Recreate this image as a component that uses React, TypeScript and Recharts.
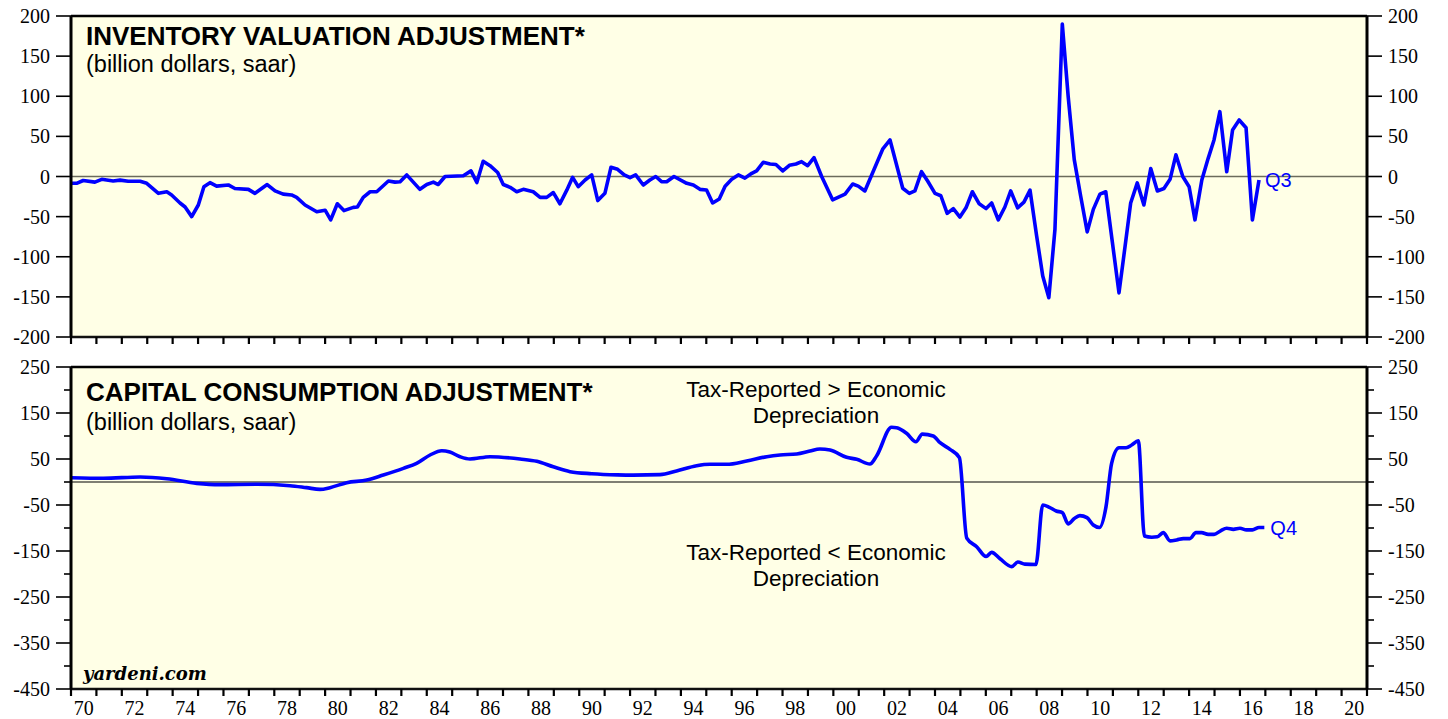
import React from 'react'
import { LineChart, Line, XAxis, YAxis, CartesianGrid, ReferenceLine, ReferenceDot } from 'recharts'

// Inventory valuation adjustment, billion $ saar (quarterly)
const IVA_DATES = [
  1970.03, 1970.22, 1970.48, 1970.94, 1971.21, 1971.66, 1971.93, 1972.25, 1972.72, 1972.98,
  1973.44, 1973.77, 1973.96, 1974.29, 1974.49, 1974.75, 1975.01, 1975.23, 1975.47, 1975.73,
  1976.19, 1976.45, 1976.98, 1977.24, 1977.72, 1978.03, 1978.35, 1978.68, 1978.88, 1979.21,
  1979.67, 1980.0, 1980.22, 1980.48, 1980.74, 1981.11, 1981.27, 1981.5, 1981.77, 1982.03,
  1982.49, 1982.75, 1982.95, 1983.21, 1983.73, 1984.0, 1984.26, 1984.45, 1984.72, 1985.44,
  1985.74, 1985.97, 1986.22, 1986.49, 1986.79, 1987.01, 1987.28, 1987.54, 1987.8, 1988.19,
  1988.46, 1988.72, 1988.98, 1989.24, 1989.51, 1989.74, 1989.96, 1990.23, 1990.49, 1990.73,
  1991.01, 1991.25, 1991.51, 1991.77, 1992.0, 1992.22, 1992.52, 1992.78, 1993.01, 1993.24,
  1993.44, 1993.73, 1994.23, 1994.49, 1994.75, 1995.01, 1995.25, 1995.51, 1995.74, 1996.0,
  1996.26, 1996.52, 1996.79, 1996.98, 1997.24, 1997.51, 1997.74, 1998.01, 1998.27, 1998.53,
  1998.75, 1998.99, 1999.24, 1999.54, 1999.97, 2000.46, 2000.76, 2000.98, 2001.24, 2001.94,
  2002.23, 2002.73, 2002.99, 2003.21, 2003.47, 2003.71, 2004.0, 2004.23, 2004.48, 2004.72,
  2004.98, 2005.22, 2005.47, 2005.74, 2006.01, 2006.23, 2006.49, 2006.75, 2006.98, 2007.25,
  2007.5, 2007.74, 2008.0, 2008.24, 2008.48, 2008.72, 2009.01, 2009.24, 2009.48, 2009.73,
  2009.99, 2010.23, 2010.49, 2010.72, 2010.98, 2011.24, 2011.48, 2011.7, 2011.96, 2012.22,
  2012.49, 2012.75, 2013.01, 2013.25, 2013.48, 2013.75, 2014.0, 2014.23, 2014.5, 2014.75,
  2014.98, 2015.21, 2015.48, 2015.71, 2015.97, 2016.24, 2016.49, 2016.75,
]
const IVA_VALUES = [
  -8.5, -8.5, -5, -7, -3.5, -5.5, -4.5, -6, -6, -8.5,
  -21, -19, -23, -33, -38, -50, -35.5, -12.7, -7.7, -12,
  -10.5, -15, -16, -21, -10, -18, -22, -23, -26, -35.5,
  -44, -42, -54, -34, -42.5, -38.5, -38, -26, -19, -19,
  -5.6, -7, -6.5, 2, -16, -10, -7, -10, 0, 1,
  7, -7.5, 19, 13.5, 5, -10, -13.5, -19, -16, -19,
  -26, -26, -20, -34, -17, -1, -12.7, -4.4, 2, -30,
  -21, 11.5, 9, 2, -1.5, 2, -10.6, -4.4, 0, -6.5,
  -6.5, 0, -8.5, -10.6, -16, -16.8, -33, -28, -12, -3.5,
  2, -2, 4, 7, 17.7, 15.6, 15, 7, 14, 15.6,
  18.5, 13.5, 23.5, 0, -29, -22, -9.3, -12, -18, 34,
  45.5, -14.7, -21, -18, 6, -5.6, -21, -24, -46, -40,
  -50.5, -39, -19, -34, -40, -33, -54, -38, -18, -39,
  -32, -17, -74, -124, -151, -66, 190, 100, 21, -24,
  -69, -41, -22, -19, -82, -145, -87, -33, -8, -35.5,
  10, -18, -15, -3.5, 27, 0, -12.7, -54, -4.4, 22.6,
  45.5, 80.8, 6, 58, 70.4, 60.8, -54, -4.4,
]

// Capital consumption adjustment, billion $ saar
const CCA_DATES = [
  1970.03, 1971.27, 1972.72, 1973.77, 1974.95, 1975.86, 1977.31, 1978.62, 1979.27, 1979.8,
  1980.19, 1980.85, 1981.64, 1982.29, 1983.08, 1983.6, 1984.13, 1984.59, 1984.91, 1985.31,
  1985.7, 1986.49, 1987.67, 1988.33, 1988.98, 1989.64, 1990.49, 1991.5, 1992.13, 1993.18,
  1993.83, 1994.62, 1995.15, 1995.8, 1996.59, 1997.38, 1997.9, 1998.56, 1999.08, 1999.47,
  1999.87, 2000.52, 2000.92, 2001.44, 2001.7, 2002.29, 2002.49, 2002.88, 2003.25, 2003.5,
  2003.93, 2004.2, 2004.59, 2004.96, 2005.25, 2005.64, 2006.01, 2006.23, 2006.56, 2007.02,
  2007.26, 2007.54, 2007.97, 2008.24, 2008.5, 2008.77, 2009.01, 2009.24, 2009.47, 2009.7,
  2009.98, 2010.23, 2010.47, 2010.73, 2010.95, 2011.24, 2011.52, 2011.74, 2012.0, 2012.24,
  2012.53, 2012.75, 2012.98, 2013.25, 2013.51, 2013.77, 2014.03, 2014.27, 2014.49, 2014.75,
  2014.98, 2015.24, 2015.48, 2015.74, 2016.0, 2016.26, 2016.49, 2016.75, 2016.96,
]
const CCA_VALUES = [
  9.4, 8, 10.9, 7.2, -2.9, -5.8, -5, -8, -12.3, -16,
  -12.3, -1.4, 4.3, 15.2, 29.7, 40.5, 58.7, 68, 65, 55,
  50, 55, 50, 45, 33, 22.5, 18, 15.5, 15, 16,
  24, 35.5, 38.5, 38.5, 45.7, 55, 58.7, 61, 67.4, 71.7,
  69.6, 53.7, 49.3, 39, 56.5, 119, 118, 106, 87.6, 104,
  100, 85.4, 71, 53, -122, -140.6, -162, -153, -167, -184,
  -174, -178.5, -179.5, -50, -55, -63, -66.5, -91, -80, -73,
  -77.5, -93.5, -99, -53.6, 40.5, 74.6, 74.6, 80.4, 89.8, -117.4,
  -120, -119, -110, -128, -126, -123, -123, -110, -110, -113.8,
  -113.8, -106, -100.7, -103, -100.7, -104, -104, -99, -99,
]

const IVA_TICKS = [200, 150, 100, 50, 0, -50, -100, -150, -200]
const CCA_TICKS = [250, 200, 150, 100, 50, 0, -50, -100, -150, -200, -250, -300, -350, -400, -450]
const CCA_LABELED = [250, 150, 50, -50, -150, -250, -350, -450]
const YEAR_LABELS = [
  1970, 1972, 1974, 1976, 1978, 1980, 1982, 1984, 1986, 1988, 1990, 1992, 1994,
  1996, 1998, 2000, 2002, 2004, 2006, 2008, 2010, 2012, 2014, 2016, 2018, 2020,
]
const YEAR_TICKS = Array.from({ length: 52 }, (_, i) => 1970 + i)

const ivaData = IVA_DATES.map((t, i) => ({ t, v: IVA_VALUES[i] }))
const ccaData = CCA_DATES.map((t, i) => ({ t, v: CCA_VALUES[i] }))

const W = 1448
const PLOT_W = 1367 - 71
const HALF_YEAR = PLOT_W / 51 / 2
const BG = '#FFFFE6'
const BLUE = '#0000FF'
const SERIF = 'Liberation Serif'
const SANS = 'Liberation Sans'

function XTick({ x, y, payload, labels }: any) {
  const yr = payload.value
  return (
    <g>
      <line x1={x} y1={y} x2={x} y2={y + 7} stroke="#000" strokeWidth={2.2} />
      {labels && YEAR_LABELS.includes(yr) && (
        <text x={x + HALF_YEAR} y={y + 26} textAnchor="middle" style={{ fontFamily: SERIF, fontSize: 20 }} fill="#000">
          {String(yr % 100).padStart(2, '0')}
        </text>
      )}
    </g>
  )
}

function YTick({ x, y, payload, side, labeled }: any) {
  const v = payload.value
  const isLab = labeled ? labeled.includes(v) : true
  const len = isLab ? 15 : 7
  const dir = side === 'left' ? -1 : 1
  return (
    <g>
      <line x1={x} y1={y} x2={x + dir * len} y2={y} stroke="#000" strokeWidth={1.6} />
      {isLab && (
        <text
          x={x + dir * 21}
          y={y + 7}
          textAnchor={side === 'left' ? 'end' : 'start'}
          style={{ fontFamily: SERIF, fontSize: 20 }}
          fill="#000"
        >
          {v}
        </text>
      )}
    </g>
  )
}

function Panel({ data, height, xHeight, domain, ticks, labeled, top, zeroColor, zeroWidth, xLabels, lineType, qLabel }: any) {
  const last = data[data.length - 1]
  return (
    <LineChart width={W} height={height} data={data} margin={{ top: 16, right: 0, left: 0, bottom: 0 }}>
      <CartesianGrid fill={BG} horizontal={false} vertical={false} stroke="none" yAxisId="l" />
      <XAxis
        dataKey="t"
        type="number"
        domain={[1970, 2021]}
        ticks={YEAR_TICKS}
        interval={0}
        allowDataOverflow
        height={xHeight}
        tickSize={0}
        tickMargin={0}
        tickLine={false}
        axisLine={{ stroke: '#111', strokeWidth: 2.5 }}
        tick={(p: any) => <XTick {...p} labels={xLabels} />}
      />
      <YAxis
        yAxisId="l"
        orientation="left"
        width={71}
        type="number"
        domain={domain}
        ticks={ticks}
        interval={0}
        allowDataOverflow
        tickSize={0}
        tickMargin={0}
        tickLine={false}
        axisLine={{ stroke: '#000', strokeWidth: 3 }}
        tick={(p: any) => <YTick {...p} side="left" labeled={labeled} />}
      />
      <YAxis
        yAxisId="r"
        orientation="right"
        width={81}
        type="number"
        domain={domain}
        ticks={ticks}
        interval={0}
        allowDataOverflow
        tickSize={0}
        tickMargin={0}
        tickLine={false}
        axisLine={{ stroke: '#000', strokeWidth: 3 }}
        tick={(p: any) => <YTick {...p} side="right" labeled={labeled} />}
      />
      <ReferenceLine yAxisId="l" y={0} stroke={zeroColor} strokeWidth={zeroWidth} />
      <ReferenceLine yAxisId="l" y={top} stroke="#000" strokeWidth={2.5} />
      <Line
        yAxisId="l"
        type={lineType}
        dataKey="v"
        stroke={BLUE}
        strokeWidth={3.6}
        strokeLinejoin="round"
        dot={false}
        isAnimationActive={false}
      />
      <ReferenceDot
        yAxisId="l"
        x={last.t}
        y={last.v}
        r={0}
        fill="none"
        stroke="none"
        label={{ value: qLabel, position: 'right', offset: 6, fill: BLUE, fontSize: 20, fontFamily: SANS }}
      />
    </LineChart>
  )
}

export default function App() {
  return (
    <div style={{ position: 'absolute', left: 0, top: 0, width: W, height: 719, background: '#fff', overflow: 'hidden' }}>
      <div style={{ position: 'absolute', left: 0, top: 0 }}>
        <Panel
          data={ivaData}
          height={360}
          xHeight={23}
          domain={[-200, 200]}
          ticks={IVA_TICKS}
          top={200}
          zeroColor="#6b6b5c"
          zeroWidth={1.6}
          xLabels={false}
          lineType="linear"
          qLabel="Q3"
        />
      </div>
      <div style={{ position: 'absolute', left: 0, top: 351 }}>
        <Panel
          data={ccaData}
          height={368}
          xHeight={30}
          domain={[-450, 250]}
          ticks={CCA_TICKS}
          labeled={CCA_LABELED}
          top={250}
          zeroColor="#000"
          zeroWidth={1.1}
          xLabels={true}
          lineType="monotone"
          qLabel="Q4"
        />
      </div>
      <svg width={W} height={719} style={{ position: 'absolute', left: 0, top: 0, pointerEvents: 'none' }}>
        <g style={{ fontFamily: SANS }} fill="#000">
          <text x={86} y={44.5} fontSize={26} fontWeight="bold">INVENTORY VALUATION ADJUSTMENT*</text>
          <text x={86} y={72.3} fontSize={23.5}>(billion dollars, saar)</text>
          <text x={86} y={400.5} fontSize={26} fontWeight="bold">CAPITAL CONSUMPTION ADJUSTMENT*</text>
          <text x={86} y={429.5} fontSize={23.5}>(billion dollars, saar)</text>
          <text x={816} y={397} fontSize={22.5} textAnchor="middle">Tax-Reported &gt; Economic</text>
          <text x={816} y={423} fontSize={22.5} textAnchor="middle">Depreciation</text>
          <text x={816} y={560} fontSize={22.5} textAnchor="middle">Tax-Reported &lt; Economic</text>
          <text x={816} y={586} fontSize={22.5} textAnchor="middle">Depreciation</text>
        </g>
        <text x={83} y={680} style={{ fontFamily: 'DejaVu Serif' }} fontSize={18} fontWeight="bold" fontStyle="italic" fill="#000">
          yardeni.com
        </text>
      </svg>
    </div>
  )
}
